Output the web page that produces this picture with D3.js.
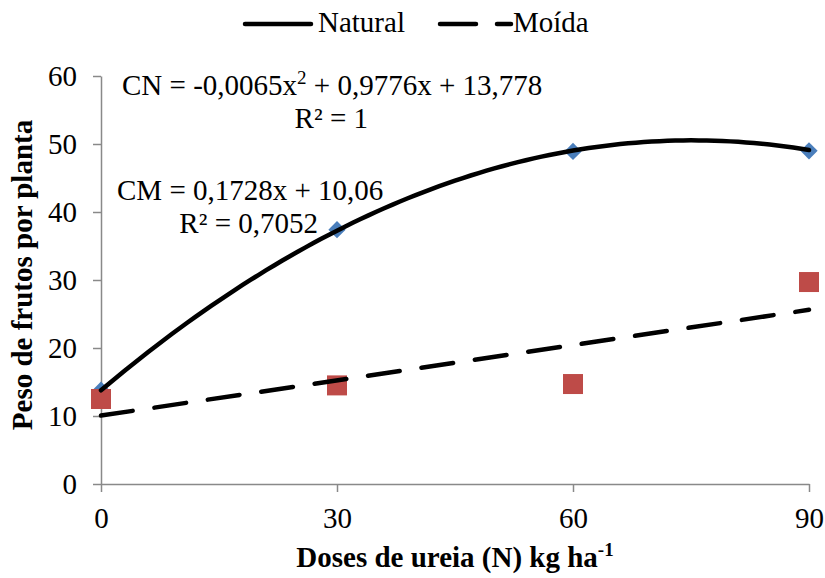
<!DOCTYPE html>
<html><head><meta charset="utf-8">
<script src="https://cdn.jsdelivr.net/npm/d3@7/dist/d3.min.js"></script>
<style>body{margin:0;background:#fff}svg{display:block}text{font-family:"Liberation Serif","Times New Roman",serif}</style>
</head><body><svg id="c" width="825" height="578"></svg>
<script>
const doses = [0, 30, 60, 90];
const natural = [13.8, 37.4, 48.9, 49.0];
const moida = [12.5, 14.5, 14.7, 29.7];
const xTicks = [0, 30, 60, 90];
const yTicks = [0, 10, 20, 30, 40, 50, 60];
const cnCoef = [-0.0065, 0.9776, 13.778]; // a x^2 + b x + c
const cmCoef = [0.1728, 10.06];            // b x + c

const FONT = "Liberation Serif, Times New Roman, serif";
const FS = 29;
const svg = d3.select("#c");
const x = d3.scaleLinear().domain([0, 90]).range([101, 809]);
const y = d3.scaleLinear().domain([0, 60]).range([484, 76]);
const axisColor = "#898989";

// y axis
const ya = svg.append("g").attr("transform", "translate(101,0)")
  .call(d3.axisLeft(y).tickValues(yTicks).tickSize(8).tickPadding(16).tickSizeOuter(0));
ya.attr("font-family", FONT);
ya.select(".domain").attr("stroke", axisColor).attr("stroke-width", 1.5);
ya.selectAll(".tick line").attr("stroke", axisColor).attr("stroke-width", 1.5);
ya.selectAll("text").attr("font-size", FS).attr("font-family", FONT).attr("fill", "#000").attr("dy", "0.34em");

// x axis
const xa = svg.append("g").attr("transform", "translate(0,484)")
  .call(d3.axisBottom(x).tickValues(xTicks).tickSize(8).tickPadding(0).tickSizeOuter(0));
xa.attr("font-family", FONT);
xa.select(".domain").attr("stroke", axisColor).attr("stroke-width", 1.5);
xa.selectAll(".tick line").attr("stroke", axisColor).attr("stroke-width", 1.5);
xa.selectAll("text").attr("font-size", FS).attr("font-family", FONT).attr("fill", "#000")
  .attr("y", 44).attr("dy", 0);

// markers
svg.append("g").selectAll("path").data(doses.map((d, i) => [d, natural[i]])).join("path")
  .attr("d", d3.symbol(d3.symbolDiamond2, 190))
  .attr("transform", d => `translate(${x(d[0])},${y(d[1])})`)
  .attr("fill", "#4a7ebb");
svg.append("g").selectAll("rect").data(doses.map((d, i) => [d, moida[i]])).join("rect")
  .attr("x", d => x(d[0]) - 10).attr("y", d => y(d[1]) - 10)
  .attr("width", 20).attr("height", 20).attr("fill", "#be4b48");

// trendlines
const xs = d3.range(0, 90.01, 1);
const cn = v => cnCoef[0] * v * v + cnCoef[1] * v + cnCoef[2];
const cm = v => cmCoef[0] * v + cmCoef[1];
const line = d3.line().x(d => x(d[0])).y(d => y(d[1]));
svg.append("path").attr("d", line(xs.map(v => [v, cn(v)])))
  .attr("fill", "none").attr("stroke", "#000").attr("stroke-width", 4.5).attr("stroke-linecap", "round");
svg.append("path").attr("d", line([[0, cm(0)], [90, cm(90)]]))
  .attr("fill", "none").attr("stroke", "#000").attr("stroke-width", 4.5).attr("stroke-linecap", "round")
  .attr("stroke-dasharray", "32,22");

// equations
const txt = (xx, yy) => svg.append("text").attr("x", xx).attr("y", yy)
  .attr("font-size", FS).attr("font-family", FONT).attr("fill", "#000");
const eq1 = txt(122, 95);
eq1.append("tspan").text("CN = -0,0065x");
eq1.append("tspan").text("2").attr("font-size", 19).attr("dy", -11);
eq1.append("tspan").text(" + 0,9776x + 13,778").attr("dy", 11);
txt(368, 128).attr("text-anchor", "end").text("R² = 1");
txt(117, 200).text("CM = 0,1728x + 10,06");
txt(318, 233).attr("text-anchor", "end").text("R² = 0,7052");

// axis titles
svg.append("text").attr("transform", "translate(32,275) rotate(-90)").attr("text-anchor", "middle")
  .attr("font-size", FS).attr("font-family", FONT).attr("font-weight", "bold").text("Peso de frutos por planta");
const xt = svg.append("text").attr("x", 455).attr("y", 567).attr("text-anchor", "middle")
  .attr("font-size", FS).attr("font-family", FONT).attr("font-weight", "bold");
xt.append("tspan").text("Doses de ureia (N) kg ha");
xt.append("tspan").text("-1").attr("font-size", 19).attr("dy", -11);

// legend
const lg = svg.append("g");
lg.append("line").attr("x1", 245).attr("x2", 311).attr("y1", 24).attr("y2", 24)
  .attr("stroke", "#000").attr("stroke-width", 4.5).attr("stroke-linecap", "round");
txt(318, 32).text("Natural");
lg.append("line").attr("x1", 440).attr("x2", 511).attr("y1", 24).attr("y2", 24)
  .attr("stroke", "#000").attr("stroke-width", 4.5).attr("stroke-linecap", "round")
  .attr("stroke-dasharray", "36,21");
txt(513, 32).text("Moída");
</script></body></html>
